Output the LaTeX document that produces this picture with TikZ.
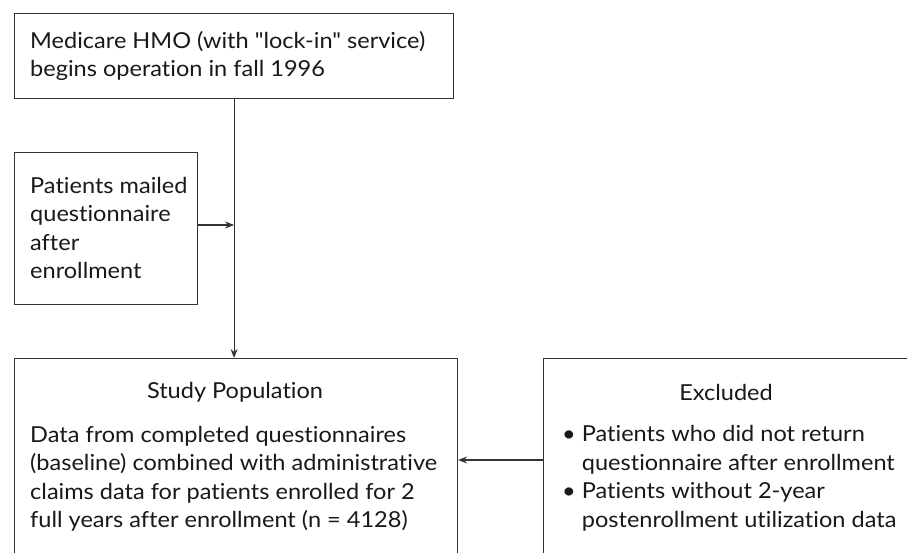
\documentclass[tikz,border=0pt]{standalone}
\usepackage{fontspec}
\setmainfont{Lato}[Ligatures={TeXOff,NoCommon}, FakeStretch=1.07]
\usetikzlibrary{arrows.meta}
\begin{document}
\begin{tikzpicture}[x=1pt,y=-1pt,
 box/.style={draw=black!80, line width=1.1pt, anchor=north west, inner sep=0pt},
 txt/.style={align=left, inner sep=0pt, text=black!90, font=\fontsize{22}{28.5}\selectfont},
 arr/.style={draw=black!80, line width=1.1pt, -{Stealth[length=9pt,width=7pt]}}]
\useasboundingbox (0,0) rectangle (907,552);
\clip (0,0) rectangle (907,552);
\fill[white] (0,0) rectangle (907,552);
\node[box, minimum width=439pt, minimum height=85pt] (top) at (14,13) {};
\node[box, minimum width=183pt, minimum height=152pt] (pat) at (14,152) {};
\node[box, minimum width=443pt, minimum height=260pt] (study) at (14,358) {};
\node[box, minimum width=420pt, minimum height=260pt] (exc) at (543,358) {};
\node[txt, anchor=west] (toptxt) at (30,56) {Medicare HMO (with "lock-in" service)\\begins operation in fall 1996};
\node[txt, anchor=west] (pattxt) at (30,228) {Patients mailed\\questionnaire\\after\\enrollment};
\node[txt, anchor=center] (sttitle) at (235,392) {Study Population};
\node[txt, anchor=west] (sttxt) at (30,479) {Data from completed questionnaires\\(baseline) combined with administrative\\claims data for patients enrolled for 2\\full years after enrollment (n = 4128)};
\node[txt, anchor=center] (extitle) at (726,392) {Excluded};
\node[txt, anchor=west] (extxt) at (562,479) {\begin{tabular}{@{}l@{\hspace{6pt}}l@{}}
\textbullet & Patients who did not return\\
 & questionnaire after enrollment\\
\textbullet & Patients without 2-year\\
 & postenrollment utilization data
\end{tabular}};
\coordinate (mid) at (500,460);
\draw[arr] (top.south) -- (top.south |- study.north);
\draw[arr] (pat.east |- 0,225) -- (top.south |- 0,225);
\draw[arr] (mid -| exc.west) -- (mid -| study.east);
\end{tikzpicture}
\end{document}
